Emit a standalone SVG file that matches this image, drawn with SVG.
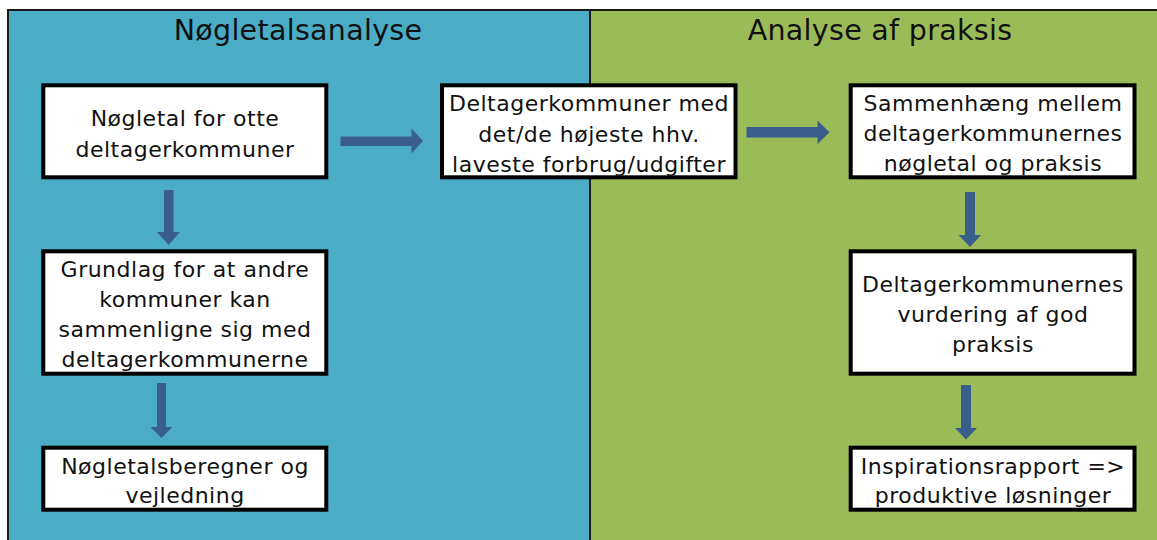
<svg xmlns="http://www.w3.org/2000/svg" width="1157" height="540" viewBox="0 0 1157 540">
<style>
.panel{stroke:#1a1a1a;stroke-width:2}
.box{fill:#ffffff;stroke:#000000;stroke-width:4}
.t{font-family:"DejaVu Sans",Verdana,sans-serif;font-size:22px;letter-spacing:0.5px;fill:#111111;text-anchor:middle}
.title{font-family:"DejaVu Sans",Verdana,sans-serif;font-size:28.5px;letter-spacing:0.3px;fill:#111111;text-anchor:middle}
.arr{fill:#3A5E8C}
</style>
<rect width="1157" height="540" fill="#ffffff"/>
<g id="panel-left">
<rect class="panel" x="8" y="10" width="582" height="540" fill="#4BACC6"/>
<text class="title" x="298" y="40">Nøgletalsanalyse</text>
</g>
<g id="panel-right">
<rect class="panel" x="590" y="10" width="580" height="540" fill="#9BBB59"/>
<text class="title" x="880" y="40">Analyse af praksis</text>
</g>
<g id="connectors">
<polygon class="arr" points="340.5,136.5 411.5,136.5 411.5,128.5 423,141 411.5,153.5 411.5,146 340.5,146"/>
<polygon class="arr" points="746.5,127 817.5,127 817.5,120.5 829.5,132.2 817.5,144 817.5,137.5 746.5,137.5"/>
<polygon class="arr" points="164,190 173.5,190 173.5,232 180,232 168.7,245 157,232 164,232"/>
<polygon class="arr" points="157,383 166,383 166,427 172.4,427 161.4,438 150.4,427 157,427"/>
<polygon class="arr" points="965,192 975,192 975,235 981,235 970,247 958.5,235 965,235"/>
<polygon class="arr" points="961,385 971,385 971,428 977,428 966,439.5 955,428 961,428"/>
</g>
<g id="n1">
<rect class="box" x="43.3" y="85.3" width="283" height="92"/>
<text class="t" x="185" y="126">Nøgletal for otte</text>
<text class="t" x="185" y="157">deltagerkommuner</text>
</g>
<g id="n2">
<rect class="box" x="442" y="85.3" width="293.5" height="92"/>
<text class="t" x="589" y="111">Deltagerkommuner med</text>
<text class="t" x="589" y="141.5">det/de højeste hhv.</text>
<text class="t" x="589" y="172">laveste forbrug/udgifter</text>
</g>
<g id="n3">
<rect class="box" x="850.7" y="85.3" width="283.8" height="92"/>
<text class="t" x="993" y="110.5">Sammenhæng mellem</text>
<text class="t" x="993" y="140.5">deltagerkommunernes</text>
<text class="t" x="993" y="170.5">nøgletal og praksis</text>
</g>
<g id="n4">
<rect class="box" x="43.3" y="251.3" width="283" height="122.4"/>
<text class="t" x="185" y="277">Grundlag for at andre</text>
<text class="t" x="185" y="306.5">kommuner kan</text>
<text class="t" x="185" y="337">sammenligne sig med</text>
<text class="t" x="185" y="366.5">deltagerkommunerne</text>
</g>
<g id="n5">
<rect class="box" x="43.3" y="447.7" width="283" height="62"/>
<text class="t" x="185" y="473.5">Nøgletalsberegner og</text>
<text class="t" x="185" y="503">vejledning</text>
</g>
<g id="n6">
<rect class="box" x="850.7" y="251.3" width="283.8" height="122.4"/>
<text class="t" x="993" y="292">Deltagerkommunernes</text>
<text class="t" x="993" y="322">vurdering af god</text>
<text class="t" x="993" y="352">praksis</text>
</g>
<g id="n7">
<rect class="box" x="850.7" y="447.7" width="283.8" height="62"/>
<text class="t" x="993" y="473.5">Inspirationsrapport =&gt;</text>
<text class="t" x="993" y="503">produktive løsninger</text>
</g>
</svg>
